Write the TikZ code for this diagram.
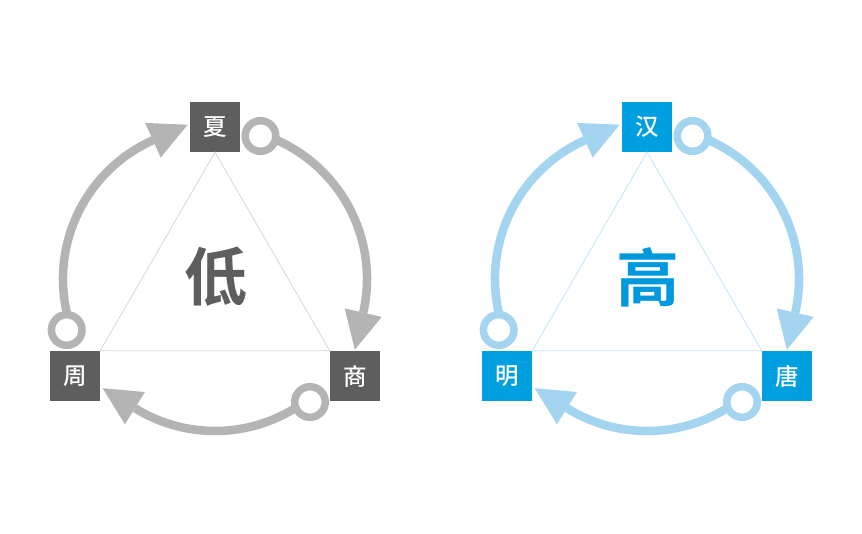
\documentclass[tikz,border=0pt]{standalone}
\usepackage{fontspec}
\newfontfamily\cjk{Noto Sans CJK SC Medium}
\newfontfamily\cjkbold{Noto Sans CJK SC Bold}
\usetikzlibrary{calc}
\definecolor{gdark}{HTML}{5E5E5E}
\definecolor{garc}{HTML}{B4B4B4}
\definecolor{gtri}{HTML}{DADADA}
\definecolor{bdark}{HTML}{009FE0}
\definecolor{barc}{HTML}{A3D5F0}
\definecolor{btri}{HTML}{C8E7F7}
\definecolor{btext}{HTML}{0099DD}
\tikzset{
  boxnode/.style={draw=none, fill=#1, minimum size=50pt, inner sep=0pt, text=white,
    font=\cjk\fontsize{23.5}{23.5}\selectfont},
  ringnode/.style={circle, draw=#1, line width=7.5pt, fill=white, minimum size=30.6pt, inner sep=0pt},
  arcline/.style={draw=#1, line width=8.5pt},
  triline/.style={draw=#1, line width=0.9pt},
  midtext/.style={text=#1, font=\cjkbold\fontsize{63}{63}\selectfont, inner sep=0pt},
}
\begin{document}
\begin{tikzpicture}[x=1pt,y=1pt]
\useasboundingbox (0,0) rectangle (862,533);
\foreach \p/\dx/\vbc/\vac/\vtc/\vmc/\vTop/\vRight/\vLeft/\vMid in
  {L/0/gdark/garc/gtri/gdark/夏/商/周/低, R/432/bdark/barc/btri/btext/汉/唐/明/高}{
\begin{scope}[xshift=\dx pt]
  \coordinate (\p-c) at (215,254);
  % arcs
  \draw[arcline=\vac] ($(\p-c)+(72.5:152pt)$) arc[start angle=72.5, end angle=-12.8, radius=152pt];
  \fill[\vac] ($(\p-c)+(-12.8:133pt)$) -- ($(\p-c)+(-12.8:171pt)$) -- ($(\p-c)+(-12.8:152pt)+(-102.8:38pt)$) -- cycle;
  \draw[arcline=\vac] ($(\p-c)+(-52.3:152pt)$) arc[start angle=-52.3, end angle=-121.8, radius=152pt];
  \fill[\vac] ($(\p-c)+(-121.8:133pt)$) -- ($(\p-c)+(-121.8:171pt)$) -- ($(\p-c)+(-121.8:152pt)+(-211.8:38pt)$) -- cycle;
  \draw[arcline=\vac] ($(\p-c)+(199:152pt)$) arc[start angle=199, end angle=114.1, radius=152pt];
  \fill[\vac] ($(\p-c)+(114.1:133pt)$) -- ($(\p-c)+(114.1:171pt)$) -- ($(\p-c)+(114.1:152pt)+(24.1:38pt)$) -- cycle;
  % rings
  \node[ringnode=\vac] (\p-r1) at (260.5,397) {};
  \node[ringnode=\vac] (\p-r2) at (310,131) {};
  \node[ringnode=\vac] (\p-r3) at (66.7,203) {};
  % boxes
  \node[boxnode=\vbc] (\p-top) at (215,406) {\vTop};
  \node[boxnode=\vbc] (\p-right) at (355,157) {\vRight};
  \node[boxnode=\vbc] (\p-left) at (75,157) {\vLeft};
  \draw[triline=\vtc] (\p-top.south) -- (\p-left.north east) -- (\p-right.north west) -- cycle;
  \node[midtext=\vmc] (\p-mid) at (215.5,256) {\vMid};
\end{scope}
}
\end{tikzpicture}
\end{document}
